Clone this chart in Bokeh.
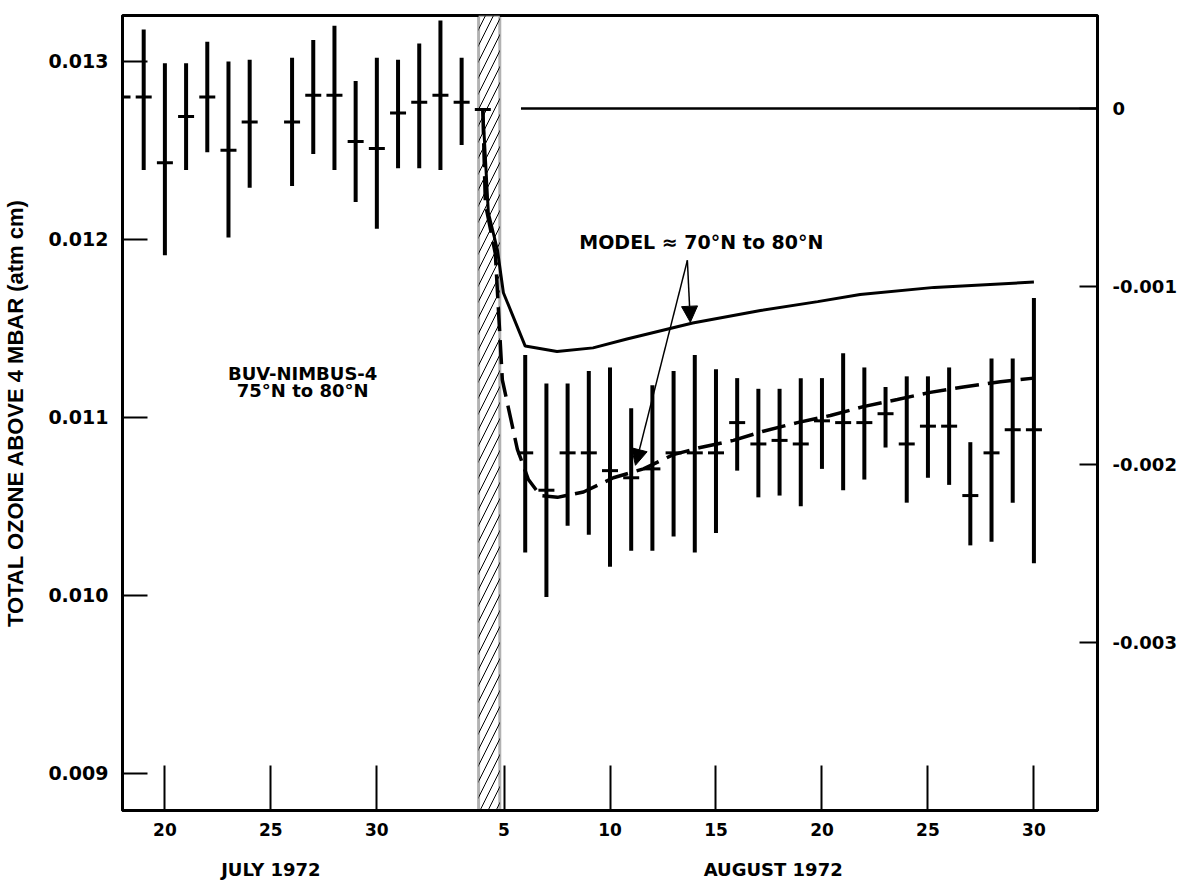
from bokeh.plotting import figure
from bokeh.models import (Range1d, LinearAxis, FixedTicker, NumeralTickFormatter,
                          BoxAnnotation, Label, Arrow, NormalHead, ColumnDataSource)
from bokeh.embed import file_html
from bokeh.resources import INLINE

# ---------------- data (day index: July n -> n, August n -> 31 + n) ----------------
obs_day = [18, 19, 20, 21, 22, 23, 24, 26, 27, 28, 29, 30, 31, 32, 33, 34, 35,
           37, 38, 39, 40, 41, 42, 43, 44, 45, 46, 47, 48, 49, 50, 51, 52, 53, 54,
           55, 56, 57, 58, 59, 60, 61]
obs_mean = [0.01280, 0.01280, 0.01243, 0.01269, 0.01280, 0.01250, 0.01266, 0.01266,
            0.01281, 0.01281, 0.01255, 0.01251, 0.01271, 0.01277, 0.01281, 0.01277, 0.01273,
            0.01080, 0.01059, 0.01080, 0.01080, 0.01070, 0.01066, 0.01071, 0.01080, 0.01080,
            0.01080, 0.01097, 0.01085, 0.01087, 0.01085, 0.01098, 0.01097, 0.01097, 0.01102,
            0.01085, 0.01095, 0.01095, 0.01056, 0.01080, 0.01093, 0.01093]
obs_hi = [0.01280, 0.01318, 0.01299, 0.01299, 0.01311, 0.01300, 0.01301, 0.01302,
          0.01312, 0.01320, 0.01289, 0.01302, 0.01301, 0.01310, 0.01323, 0.01302, 0.01273,
          0.01135, 0.01119, 0.01119, 0.01126, 0.01128, 0.01105, 0.01118, 0.01126, 0.01135,
          0.01127, 0.01122, 0.01116, 0.01116, 0.01122, 0.01122, 0.01136, 0.01128, 0.01117,
          0.01123, 0.01123, 0.01128, 0.01086, 0.01133, 0.01133, 0.01167]
obs_lo = [0.01280, 0.01239, 0.01191, 0.01239, 0.01249, 0.01201, 0.01229, 0.01230,
          0.01248, 0.01239, 0.01221, 0.01206, 0.01240, 0.01240, 0.01239, 0.01253, 0.01273,
          0.01024, 0.00999, 0.01039, 0.01034, 0.01016, 0.01025, 0.01025, 0.01033, 0.01024,
          0.01035, 0.01070, 0.01055, 0.01056, 0.01050, 0.01071, 0.01059, 0.01065, 0.01083,
          0.01052, 0.01066, 0.01062, 0.01028, 0.01030, 0.01052, 0.01018]

model_solid_day = [35, 35.26, 35.69, 35.97, 37.0, 38.5, 40.2, 41.8, 44.9, 48.1, 50.8,
                   52.8, 56.3, 61]
model_solid_val = [0.012725, 0.01215, 0.01194, 0.01170, 0.01140, 0.01137, 0.01139,
                   0.01144, 0.01153, 0.01160, 0.01165, 0.01169, 0.01173, 0.01176]

model_dash_day = [35, 35.12, 35.59, 35.92, 36.63, 37.15, 37.72, 38.52, 39.75, 41.16,
                  42.58, 43.99, 45.26, 46.82, 48.19, 49.84, 51.40, 52.95, 54.56, 56.11,
                  57.67, 59.42, 61]
model_dash_val = [0.012725, 0.01220, 0.01192, 0.01121, 0.01082, 0.01065, 0.01056,
                  0.01055, 0.01058, 0.01066, 0.01071, 0.01079, 0.01083, 0.01087, 0.01092,
                  0.01097, 0.01101, 0.01106, 0.01110, 0.01114, 0.01117, 0.01120, 0.01122]

zero_line_day = [36.8, 64]
zero_line_val = [0.0, 0.0]

event_start, event_end = 34.8, 35.8

x_tick_days = [20, 25, 30, 36, 41, 46, 51, 56, 61]
x_tick_labels = ["20", "25", "30", "5", "10", "15", "20", "25", "30"]
month_days = [25, 48.7]
month_labels = ["JULY 1972", "AUGUST 1972"]
left_ticks = [0.009, 0.010, 0.011, 0.012, 0.013]
right_ticks = [0.0, -0.001, -0.002, -0.003]

x_lim = (18, 64)
y_lim = (0.00879, 0.013258)
right_offset = 0.012736   # left value that corresponds to 0 on the right axis

# annotation anchors
buv_pos = (26.5, 0.011247, 0.011152)
model_label_pos = (45.31, 0.011983)
arrow_apex = (44.65, 0.011882)
arrow_ends = [(44.79, 0.011534), (42.2, 0.010730)]

# ---------------- figure ----------------
BOLD = "DejaVu Sans"
p = figure(width=1181, height=882, x_range=Range1d(*x_lim), y_range=Range1d(*y_lim),
           output_backend="svg", toolbar_location=None,
           min_border_left=122, min_border_right=84, min_border_top=15, min_border_bottom=72)
p.extra_y_ranges = {"right": Range1d(y_lim[0] - right_offset, y_lim[1] - right_offset)}
p.grid.visible = False
p.background_fill_color = "white"
p.border_fill_color = "white"
p.outline_line_color = "black"
p.outline_line_width = 3

# hatched event band
band = BoxAnnotation(left=event_start, right=event_end, fill_color="white", fill_alpha=1,
                     hatch_pattern="/", hatch_color="black", hatch_weight=1, hatch_scale=16,
                     line_color="black", line_width=3, level="underlay")
p.add_layout(band)

src = ColumnDataSource(dict(d=obs_day, m=obs_mean, hi=obs_hi, lo=obs_lo))
p.segment(x0="d", y0="lo", x1="d", y1="hi", source=src, line_color="black", line_width=4)
p.scatter(x="d", y="m", source=src, marker="dash", size=16, line_color="black", line_width=3)

p.line(model_solid_day, model_solid_val, line_color="black", line_width=3)
p.line(model_dash_day, model_dash_val, line_color="black", line_width=3.5, line_dash="24 9")
p.line(zero_line_day, zero_line_val, y_range_name="right", line_color="black", line_width=2.5)

# axes
xa = p.xaxis[0]
xa.ticker = FixedTicker(ticks=x_tick_days)
xa.major_label_overrides = dict(zip(x_tick_days, x_tick_labels))
xa.major_tick_in = 45
xa.major_tick_out = 0
xa.minor_tick_line_color = None
xa.major_tick_line_width = 2
xa.axis_line_width = 3
xa.major_label_standoff = 12
xa.major_label_text_font = BOLD
xa.major_label_text_font_style = "bold"
xa.major_label_text_font_size = "17px"
xa.major_label_text_color = "black"

ya = p.yaxis[0]
ya.ticker = FixedTicker(ticks=left_ticks)
ya.formatter = NumeralTickFormatter(format="0.000")
ya.major_tick_in = 25
ya.major_tick_out = 0
ya.minor_tick_line_color = None
ya.major_tick_line_width = 2
ya.axis_line_width = 3
ya.major_label_standoff = 14
ya.major_label_text_font = BOLD
ya.major_label_text_font_style = "bold"
ya.major_label_text_font_size = "19px"
ya.major_label_text_color = "black"
ya.axis_label = "TOTAL OZONE ABOVE 4 MBAR (atm cm)"
ya.axis_label_text_font = "Liberation Sans"
ya.axis_label_text_font_style = "bold"
ya.axis_label_text_font_size = "22px"
ya.axis_label_standoff = 17
ya.axis_label_text_color = "black"

ra = LinearAxis(y_range_name="right", ticker=FixedTicker(ticks=right_ticks),
                formatter=NumeralTickFormatter(format="0.000"),
                major_label_overrides={0: "0"})
ra.major_tick_in = 18
ra.major_tick_out = 0
ra.minor_tick_line_color = None
ra.major_tick_line_width = 2
ra.axis_line_width = 3
ra.major_label_standoff = 15
ra.major_label_text_font = BOLD
ra.major_label_text_font_style = "bold"
ra.major_label_text_font_size = "18px"
ra.major_label_text_color = "black"
p.add_layout(ra, "right")

ma = LinearAxis(ticker=FixedTicker(ticks=month_days),
                major_label_overrides=dict(zip(month_days, month_labels)))
ma.axis_line_color = None
ma.major_tick_line_color = None
ma.minor_tick_line_color = None
ma.major_label_standoff = 14
ma.major_label_text_font = BOLD
ma.major_label_text_font_style = "bold"
ma.major_label_text_font_size = "18px"
ma.major_label_text_color = "black"
p.add_layout(ma, "below")

# text annotations
for txt, yy in (("BUV-NIMBUS-4", buv_pos[1]), ("75°N to 80°N", buv_pos[2])):
    p.add_layout(Label(x=buv_pos[0], y=yy, text=txt, text_align="center",
                       text_baseline="middle", text_font=BOLD, text_font_style="bold",
                       text_font_size="18px", text_color="black"))
p.add_layout(Label(x=model_label_pos[0], y=model_label_pos[1], text="MODEL ≈ 70°N to 80°N",
                   text_align="center", text_baseline="middle", text_font=BOLD,
                   text_font_style="bold", text_font_size="19px", text_color="black"))
for ex, ey in arrow_ends:
    p.add_layout(Arrow(end=NormalHead(size=16, fill_color="black", line_color="black"),
                       x_start=arrow_apex[0], y_start=arrow_apex[1], x_end=ex, y_end=ey,
                       line_color="black", line_width=1.5))

open("out.html", "w").write(file_html(p, INLINE))
